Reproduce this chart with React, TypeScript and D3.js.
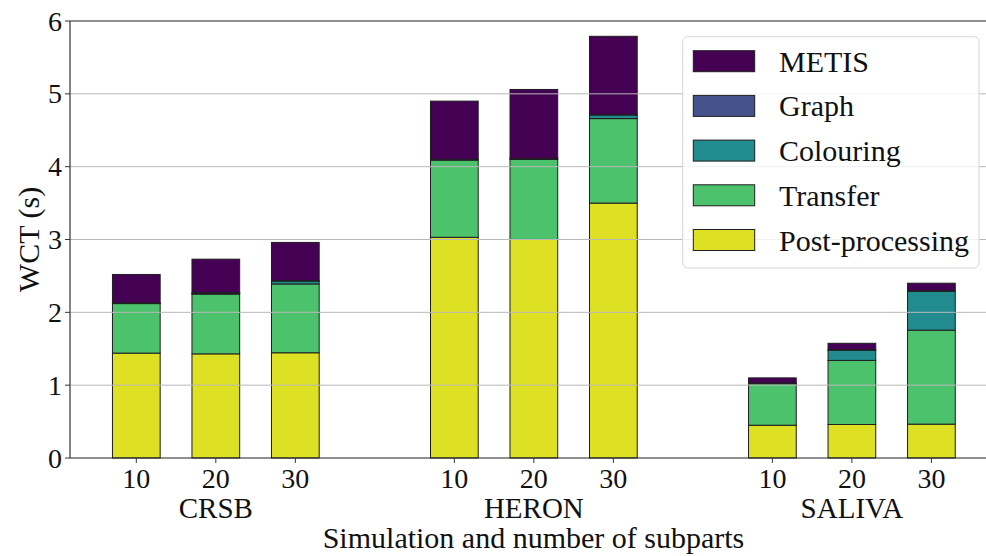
import React from "react";
import * as d3 from "d3";

const groups = ["CRSB", "HERON", "SALIVA"];
const subparts = ["10", "20", "30"];
const seriesNames = ["Post-processing", "Transfer", "Colouring", "Graph", "METIS"];
const postProcessing = [1.44, 1.43, 1.445, 3.03, 3.0, 3.5, 0.45, 0.46, 0.465];
const transfer = [0.68, 0.82, 0.945, 1.06, 1.1, 1.16, 0.57, 0.88, 1.29];
const colouring = [0.005, 0.01, 0.04, 0.005, 0.01, 0.05, 0.005, 0.14, 0.535];
const graph = [0.005, 0.01, 0.005, 0.005, 0.005, 0.005, 0.005, 0.005, 0.005];
const metis = [0.39, 0.46, 0.525, 0.8, 0.945, 1.075, 0.07, 0.09, 0.105];
const yTicks = [0, 1, 2, 3, 4, 5, 6];

const colors: Record<string, string> = {
  METIS: "#440154",
  Graph: "#46528c",
  Colouring: "#228b8d",
  Transfer: "#4dc26c",
  "Post-processing": "#dee023",
};

const W = 986;
const H = 556;
const mLeft = 70;
const mRight = 997;
const mTop = 21;
const mBottom = 458;
const serifFont = "Liberation Serif";

function T(props: any) {
  const { size, children, ...rest } = props;
  return (
    <text {...rest} fontFamily={serifFont} fontSize={size} style={{ fontFamily: serifFont, fontSize: size + "px" }} fill="#111">
      {children}
    </text>
  );
}

export default function App() {
  const seriesValues: Record<string, number[]> = {
    "Post-processing": postProcessing,
    Transfer: transfer,
    Colouring: colouring,
    Graph: graph,
    METIS: metis,
  };
  const rows = postProcessing.map((_, i) => {
    const r: any = { idx: i };
    seriesNames.forEach((s) => (r[s] = seriesValues[s][i]));
    return r;
  });
  const stacked = d3.stack().keys(seriesNames)(rows);

  const pos = rows.map((_, i) => Math.floor(i / 3) * 4 + (i % 3));
  const x = d3.scaleLinear().domain([-0.834, 10.825]).range([mLeft, mRight]);
  const y = d3.scaleLinear().domain([0, 6]).range([mBottom, mTop]);
  const barW = x(0.6) - x(0);

  const legendOrder = ["METIS", "Graph", "Colouring", "Transfer", "Post-processing"];
  const legendCenters = d3.scaleLinear().domain([0, 4]).range([61.2, 240]);

  return (
    <svg width={W} height={H} style={{ position: "absolute", left: 0, top: 0, background: "#fff", fontFamily: serifFont }}>
      <rect x={0} y={0} width={W} height={H} fill="#fff" />
      {stacked.map((layer) => (
        <g key={layer.key}>
          {layer.map((d, i) => (
            <rect
              key={i}
              x={x(pos[i]) - barW / 2}
              y={y(d[1])}
              width={barW}
              height={Math.max(0, y(d[0]) - y(d[1]))}
              fill={colors[layer.key]}
              stroke="#1e1e1e"
              strokeWidth={1}
            />
          ))}
        </g>
      ))}
      {yTicks.slice(1).map((t) => (
        <line key={t} x1={mLeft} x2={mRight} y1={y(t)} y2={y(t)} stroke="#b8b8b8" strokeWidth={1} />
      ))}
      <line x1={mLeft} x2={mLeft} y1={mTop} y2={mBottom} stroke="#333" strokeWidth={1.2} />
      <line x1={mLeft} x2={mRight} y1={mBottom} y2={mBottom} stroke="#222" strokeWidth={1.2} />
      <line x1={mLeft} x2={mRight} y1={mTop} y2={mTop} stroke="#444" strokeWidth={1.2} />
      {yTicks.map((t) => (
        <g key={t}>
          <line x1={mLeft - 5} x2={mLeft} y1={y(t)} y2={y(t)} stroke="#333" strokeWidth={1} />
          <T x={mLeft - 8} y={y(t) + 9.5} textAnchor="end" size={28}>
            {t}
          </T>
        </g>
      ))}
      {rows.map((_, i) => (
        <g key={i}>
          <line x1={x(pos[i])} x2={x(pos[i])} y1={mBottom} y2={mBottom + 5} stroke="#333" strokeWidth={1} />
          <T x={x(pos[i])} y={488} textAnchor="middle" size={28}>
            {subparts[i % 3]}
          </T>
        </g>
      ))}
      {groups.map((g, gi) => (
        <T key={g} x={x(gi * 4 + 1)} y={518} textAnchor="middle" size={29}>
          {g}
        </T>
      ))}
      <T x={(mLeft + mRight) / 2} y={548} textAnchor="middle" size={30}>
        Simulation and number of subparts
      </T>
      <T transform={`translate(39, ${(mTop + mBottom) / 2}) rotate(-90)`} textAnchor="middle" size={30}>
        WCT (s)
      </T>
      <rect x={682.7} y={36.7} width={296.3} height={231.3} rx={5} fill="#fff" fillOpacity={0.8} stroke="#d6d6d6" strokeWidth={1} />
      {legendOrder.map((s, i) => (
        <g key={s}>
          <rect x={693.3} y={legendCenters(i) - 10.5} width={61.4} height={21} fill={colors[s]} stroke="#1e1e1e" strokeWidth={1} />
          <T x={779} y={legendCenters(i) + 10.5} size={30}>
            {s}
          </T>
        </g>
      ))}
    </svg>
  );
}
